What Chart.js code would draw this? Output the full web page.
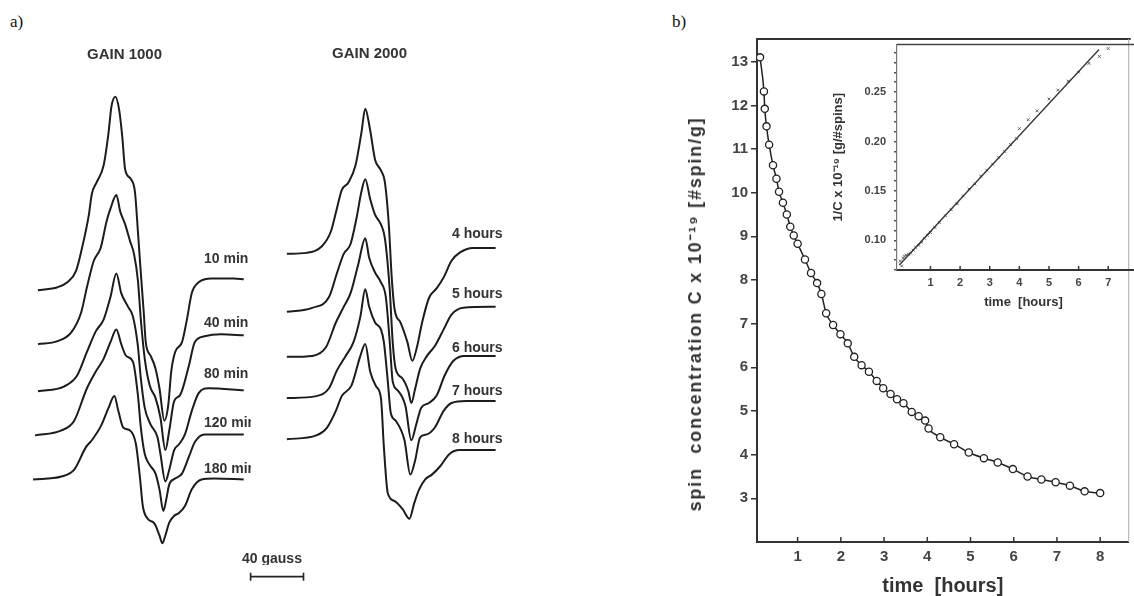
<!DOCTYPE html>
<html>
<head>
<meta charset="utf-8">
<script src="https://cdn.jsdelivr.net/npm/chart.js@4.4.0/dist/chart.umd.min.js"></script>
<style>
  html, body { margin: 0; padding: 0; background: #fff; overflow: hidden; width: 1134px; height: 596px; }
  body { position: relative; font-family: "Liberation Sans", Arial, sans-serif; }
  canvas { position: absolute; }
  .lbl { position: absolute; font-weight: bold; font-size: 14px; color: #333; white-space: pre; line-height: 1; overflow: hidden; }
  .panel { position: absolute; font-family: "Liberation Serif", "Times New Roman", serif; font-size: 17px; color: #111; line-height: 1; }
  .ytitle { position: absolute; font-weight: bold; font-size: 18px; letter-spacing: 1.8px; color: #333; white-space: pre; line-height: 1;
            transform: translate(-50%, -50%) rotate(-90deg); }
</style>
</head>
<body>
<div class="panel" style="left:10px;top:13px;">a)</div>
<div class="panel" style="left:672px;top:13px;">b)</div>

<canvas id="spectra" width="560" height="596" style="left:0;top:0;"></canvas>
<canvas id="decay" width="574" height="596" style="left:560px;top:0;"></canvas>
<canvas id="inset" width="329" height="280" style="left:826px;top:30px;"></canvas>

<div class="lbl" style="left:87px;top:46px;font-size:15px;">GAIN 1000</div>
<div class="lbl" style="left:332px;top:45px;font-size:15px;">GAIN 2000</div>
<div id="labels1000"></div>
<div id="labels2000"></div>
<div class="lbl" style="left:242px;top:551px;">40 gauss</div>
<div class="ytitle" style="left:695px;top:314px;">spin  concentration C x 10⁻¹⁹ [#spin/g]</div>

<script>
// ---- panel a) EPR spectra: field (a.u.) vs signal (a.u.) ----
const gain1000Labels = ['10 min', '40 min', '80 min', '120 min', '180 min'];
const gain1000LabelTop = [251, 315, 366, 415, 461];

const spec10min = [[33,306],[53,309],[63,314],[72,326],[78,349],[85,383],[88,404],[93,416],[100,433],[105,466],[108,493],[112,503],[116,489],[119,463],[122,429],[128,419],[132,406],[135,366],[138,323],[141,283],[143,253],[148,239],[153,226],[157,206],[162,173],[166,189],[169,223],[173,243],[180,253],[185,276],[190,303],[197,314],[210,318],[233,318],[243,317]];
const spec40min = [[33,251],[53,254],[67,263],[77,283],[83,309],[90,336],[97,349],[103,376],[107,389],[113,403],[117,386],[122,373],[127,356],[131,343],[135,316],[138,276],[142,236],[147,209],[153,196],[158,176],[163,143],[167,163],[172,193],[178,199],[187,229],[193,253],[203,259],[220,261],[243,260]];
const spec80min = [[33,203],[60,208],[73,219],[83,243],[92,264],[100,276],[107,299],[113,323],[118,303],[125,289],[130,279],[135,249],[138,216],[142,186],[148,169],[155,156],[158,139],[163,111],[167,123],[172,143],[177,149],[183,159],[190,183],[197,201],[207,206],[243,204]];
const spec120min = [[30,158],[57,163],[70,173],[83,206],[92,223],[100,236],[107,253],[113,266],[118,251],[123,239],[130,233],[135,199],[138,166],[142,139],[147,128],[153,119],[157,103],[161,81],[164,93],[167,108],[173,114],[180,119],[187,136],[193,151],[203,159],[243,159]];
const spec180min = [[28,113],[57,116],[70,123],[82,146],[88,153],[98,169],[105,186],[111,198],[115,183],[120,166],[127,163],[133,149],[137,116],[140,86],[145,73],[152,68],[157,56],[160,48],[163,56],[167,69],[172,76],[177,79],[183,86],[190,103],[200,113],[213,114],[243,113]];

const gain2000Labels = ['4 hours', '5 hours', '6 hours', '7 hours', '8 hours'];
const gain2000LabelTop = [226, 286, 340, 383, 431];

const spec4h = [[287,343],[307,344],[323,351],[332,366],[338,389],[343,408],[350,416],[357,433],[363,466],[367,491],[372,469],[377,439],[383,428],[387,416],[391,373],[394,319],[397,286],[403,273],[410,253],[415,234],[420,249],[425,273],[432,298],[440,308],[447,319],[455,336],[463,344],[477,349],[500,349]];
const spec5h = [[287,284],[313,288],[330,299],[338,323],[345,343],[352,353],[358,379],[363,406],[367,419],[372,399],[377,383],[383,373],[387,359],[392,306],[395,253],[398,226],[405,216],[411,203],[414,191],[418,206],[423,226],[430,239],[438,249],[447,266],[455,281],[467,288],[500,289]];
const spec6h = [[287,238],[313,239],[327,248],[337,273],[345,289],[352,303],[360,333],[367,359],[371,339],[377,324],[383,314],[388,299],[392,253],[395,213],[400,204],[408,188],[414,153],[419,169],[424,186],[432,191],[440,199],[448,219],[457,234],[468,239],[500,239]];
const spec7h = [[287,196],[317,198],[330,206],[338,224],[347,239],[355,253],[362,279],[367,307],[371,289],[377,273],[383,266],[386,253],[390,213],[393,181],[398,173],[407,153],[413,118],[418,133],[423,156],[430,159],[438,166],[447,183],[455,191],[470,193],[500,193]];
const spec8h = [[287,154],[317,158],[328,166],[337,183],[343,198],[353,209],[362,239],[367,251],[372,223],[378,208],[383,196],[386,146],[390,99],[397,91],[405,83],[412,73],[417,89],[422,103],[428,113],[435,118],[443,126],[453,139],[463,143],[500,143]];

const scaleBar = [[250,14],[304,14]]; // 40 gauss

// ---- panel b) spin concentration decay ----
const hours = [0.13,0.22,0.24,0.28,0.34,0.43,0.51,0.57,0.66,0.75,0.83,0.91,1.00,1.17,1.31,1.45,1.55,1.66,1.82,1.99,2.16,2.31,2.48,2.65,2.83,2.98,3.15,3.30,3.45,3.64,3.80,3.95,4.03,4.30,4.62,4.96,5.31,5.63,5.98,6.32,6.64,6.97,7.30,7.64,8.00];
const spinConc = [13.10,12.32,11.92,11.52,11.10,10.63,10.32,10.02,9.77,9.50,9.22,9.02,8.83,8.47,8.16,7.93,7.68,7.24,6.97,6.76,6.55,6.24,6.05,5.90,5.69,5.52,5.39,5.27,5.18,4.98,4.88,4.78,4.60,4.40,4.24,4.05,3.92,3.82,3.67,3.50,3.43,3.37,3.29,3.16,3.12];
const mainXTicks = [1,2,3,4,5,6,7,8];
const mainYTicks = [3,4,5,6,7,8,9,10,11,12,13];

// inset: 1/C vs time
const invHours = [-0.02,0.03,0.08,0.12,0.18,0.25,0.33,0.42,0.5,0.6,0.7,0.8,0.9,1.0,1.15,1.3,1.5,1.7,1.9,2.1,2.3,2.5,2.7,2.9,3.1,3.3,3.5,3.7,3.9,4.0,4.3,4.6,5.0,5.3,5.65,6.0,6.35,6.7,7.0];
const invConc = [0.079,0.074,0.082,0.084,0.085,0.086,0.087,0.090,0.093,0.095,0.098,0.102,0.105,0.108,0.113,0.118,0.125,0.131,0.137,0.145,0.152,0.157,0.165,0.171,0.177,0.184,0.190,0.197,0.203,0.213,0.222,0.231,0.243,0.252,0.261,0.270,0.279,0.286,0.294];
const invFitHours = [-0.05, 6.69];
const invFitConc = [0.075, 0.293];
const insetXTicks = [1,2,3,4,5,6,7];
const insetYTicks = [0.07,0.08,0.09,0.10,0.11,0.12,0.13,0.14,0.15,0.16,0.17,0.18,0.19,0.20,0.21,0.22,0.23,0.24,0.25,0.26,0.27,0.28,0.29];

const FONT = '"Liberation Sans", Arial, sans-serif';
const toXY = arr => arr.map(p => ({ x: p[0], y: p[1] }));
const zip = (xs, ys) => xs.map((x, i) => ({ x: x, y: ys[i] }));

// text labels next to the spectra
function putLabels(id, texts, tops, left, clipRight) {
  const box = document.getElementById(id);
  texts.forEach((t, i) => {
    const d = document.createElement('div');
    d.className = 'lbl';
    d.textContent = t;
    d.style.left = left + 'px';
    d.style.top = tops[i] + 'px';
    if (clipRight) d.style.width = (clipRight - left) + 'px';
    box.appendChild(d);
  });
}
putLabels('labels1000', gain1000Labels, gain1000LabelTop, 204, 251);
putLabels('labels2000', gain2000Labels, gain2000LabelTop, 452, 0);

// frame lines + inward x ticks
const frame = {
  id: 'frame',
  afterDraw(chart, args, opts) {
    const { ctx, chartArea: a } = chart;
    ctx.save();
    ctx.strokeStyle = opts.color || '#333';
    ctx.lineWidth = opts.width || 2;
    if (opts.top) { ctx.beginPath(); ctx.moveTo(a.left, a.top); ctx.lineTo(a.right + 2, a.top); ctx.stroke(); }
    if (opts.right) {
      ctx.strokeStyle = '#aaa'; ctx.lineWidth = 1;
      ctx.beginPath(); ctx.moveTo(a.right, a.top); ctx.lineTo(a.right, a.bottom); ctx.stroke();
    }
    if (opts.inTicks) {
      const xs = chart.scales.x;
      ctx.strokeStyle = '#333'; ctx.lineWidth = 1.5;
      xs.ticks.forEach(t => {
        const px = xs.getPixelForValue(t.value);
        ctx.beginPath(); ctx.moveTo(px, a.bottom); ctx.lineTo(px, a.bottom - opts.inTicks); ctx.stroke();
      });
    }
    ctx.restore();
  }
};

// ---- spectra chart ----
const spectra = [spec10min, spec40min, spec80min, spec120min, spec180min, spec4h, spec5h, spec6h, spec7h, spec8h];
new Chart(document.getElementById('spectra'), {
  type: 'line',
  data: {
    datasets: spectra.map(s => ({
      data: toXY(s), borderColor: '#1c1c1c', borderWidth: 2, pointRadius: 0,
      cubicInterpolationMode: 'monotone', fill: false
    })).concat([{
      data: toXY(scaleBar), borderColor: '#222', borderWidth: 1.6,
      pointStyle: 'line', rotation: 90, pointRadius: 4, pointBorderWidth: 1.6, pointBorderColor: '#222'
    }])
  },
  options: {
    animation: false, responsive: false, events: [],
    layout: { padding: 0 },
    plugins: { legend: { display: false }, tooltip: { enabled: false } },
    scales: {
      x: { type: 'linear', display: false, min: 0, max: 560 },
      y: { type: 'linear', display: false, min: 0, max: 596 }
    }
  }
});

// ---- main decay chart ----
new Chart(document.getElementById('decay'), {
  type: 'line',
  data: {
    datasets: [{
      data: zip(hours, spinConc),
      borderColor: '#222', borderWidth: 1.5,
      pointRadius: 3.6, pointBorderWidth: 1.3, pointBorderColor: '#222', pointBackgroundColor: '#fff',
      cubicInterpolationMode: 'monotone', fill: false
    }]
  },
  options: {
    animation: false, responsive: false, events: [],
    layout: { padding: { left: 137, top: 39, right: 2, bottom: 0 } },
    plugins: { legend: { display: false }, tooltip: { enabled: false },
               frame: { top: true, right: true, inTicks: 5, color: '#333', width: 2 } },
    scales: {
      x: {
        type: 'linear', min: 0.06, max: 8.66,
        afterBuildTicks: s => { s.ticks = mainXTicks.map(v => ({ value: v })); },
        afterFit: s => { s.height = 54; },
        grid: { drawOnChartArea: false, drawTicks: false },
        border: { color: '#333', width: 2 },
        ticks: { color: '#444', padding: 6, font: { family: FONT, size: 15, weight: 'bold' } },
        title: { display: true, text: 'time  [hours]', color: '#333', padding: { top: 0, bottom: 0 },
                 font: { family: FONT, size: 20, weight: 'bold', lineHeight: 1 } }
      },
      y: {
        type: 'linear', min: 2, max: 13.52,
        afterBuildTicks: s => { s.ticks = mainYTicks.map(v => ({ value: v })); },
        afterFit: s => { s.width = 60; },
        grid: { drawOnChartArea: false, tickLength: 6, color: '#333', lineWidth: 1.5 },
        border: { color: '#333', width: 2 },
        ticks: { color: '#444', padding: 3, font: { family: FONT, size: 15, weight: 'bold' } }
      }
    }
  },
  plugins: [frame]
});

// ---- inset ----
new Chart(document.getElementById('inset'), {
  type: 'line',
  data: {
    datasets: [{
      data: zip(invFitHours, invFitConc), borderColor: '#333', borderWidth: 1.3, pointRadius: 0, fill: false
    }, {
      data: zip(invHours, invConc), showLine: false,
      pointStyle: 'crossRot', pointRadius: 2, pointBorderWidth: 1, pointBorderColor: '#666'
    }]
  },
  options: {
    animation: false, responsive: false, events: [],
    layout: { padding: { left: 6, top: 12, right: 0, bottom: 0 } },
    plugins: { legend: { display: false }, tooltip: { enabled: false },
               frame: { top: true, inTicks: 4, color: '#444', width: 1.5 } },
    scales: {
      x: {
        type: 'linear', min: -0.13, max: 8.41,
        afterBuildTicks: s => { s.ticks = insetXTicks.map(v => ({ value: v })); },
        afterFit: s => { s.height = 40; },
        grid: { drawOnChartArea: false, drawTicks: false },
        border: { color: '#333', width: 2 },
        ticks: { color: '#444', padding: 6, font: { family: FONT, size: 11, weight: 'bold' } },
        title: { display: true, text: 'time  [hours]', color: '#333', padding: { top: 0, bottom: 1.5 },
                 font: { family: FONT, size: 13, weight: 'bold', lineHeight: 1 } }
      },
      y: {
        type: 'linear', min: 0.07, max: 0.298,
        afterBuildTicks: s => { s.ticks = insetYTicks.map(v => ({ value: v })); },
        afterFit: s => { s.width = 65; },
        grid: { drawOnChartArea: false, tickLength: 3, color: '#555', lineWidth: 1.5 },
        border: { color: '#777', width: 1.2 },
        ticks: {
          color: '#444', padding: 8, autoSkip: false, font: { family: FONT, size: 11, weight: 'bold' },
          callback: v => (Math.abs(v * 20 - Math.round(v * 20)) < 1e-6 ? v.toFixed(2) : '')
        },
        title: { display: true, text: '1/C x 10⁻¹⁹ [g/#spins]', color: '#333', padding: { top: 0, bottom: 0 },
                 font: { family: FONT, size: 13, weight: 'bold', lineHeight: 1 } }
      }
    }
  },
  plugins: [frame]
});
</script>
</body>
</html>
